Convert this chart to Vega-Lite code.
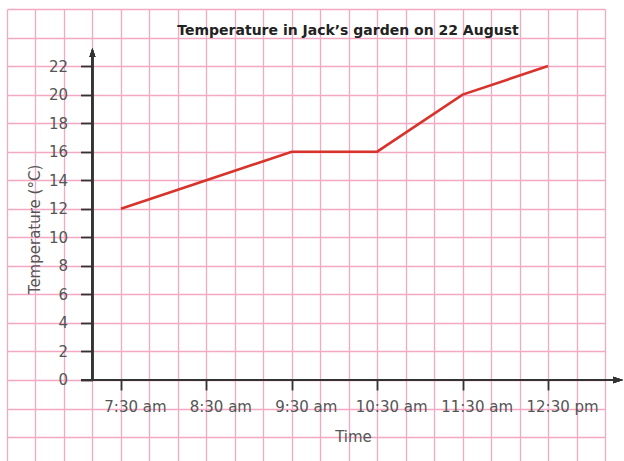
{
  "$schema": "https://vega.github.io/schema/vega-lite/v6.json",
  "width": 598,
  "height": 452,
  "autosize": {"type": "none"},
  "padding": {"left": 7, "top": 9, "right": 19, "bottom": 0},
  "background": "white",
  "title": {
    "text": "Temperature in Jack’s garden on 22 August",
    "font": "DejaVu Sans",
    "fontSize": 14,
    "fontWeight": "bold",
    "color": "#222222",
    "anchor": "middle",
    "frame": "group",
    "offset": 0,
    "baseline": "alphabetic",
    "dy": 47,
    "dx": 42
  },
  "config": {
    "view": {"stroke": null},
    "axis": {
      "gridColor": "#f3a9c3",
      "gridWidth": 1.3,
      "gridOpacity": 1,
      "domain": false,
      "tickColor": "#333333",
      "tickWidth": 1.8,
      "labelFont": "DejaVu Sans",
      "labelFontSize": 15,
      "labelColor": "#555555",
      "titleFont": "DejaVu Sans",
      "titleFontSize": 15,
      "titleFontWeight": "normal",
      "titleColor": "#555555",
      "labelOverlap": false,
      "labelBound": false,
      "labelFlush": false
    }
  },
  "data": {
    "values": [
      {"time": "7:30 am", "hour": 7.5, "temp": 12},
      {"time": "8:30 am", "hour": 8.5, "temp": 14},
      {"time": "9:30 am", "hour": 9.5, "temp": 16},
      {"time": "10:30 am", "hour": 10.5, "temp": 16},
      {"time": "11:30 am", "hour": 11.5, "temp": 20},
      {"time": "12:30 pm", "hour": 12.5, "temp": 22}
    ]
  },
  "layer": [
    {
      "mark": {"type": "line", "color": "#d8332b", "strokeWidth": 2.6},
      "encoding": {
        "x": {
          "field": "hour",
          "type": "quantitative",
          "scale": {"domain": [6.166666666666667, 13.166666666666666], "nice": false, "zero": false},
          "axis": {
            "orient": "bottom",
            "offset": -81,
            "grid": true,
            "tickCount": 100,
            "values": [6.166666666666667, 6.5, 6.833333333333333, 7.166666666666667, 7.5, 7.833333333333333, 8.166666666666667, 8.5, 8.833333333333333, 9.166666666666667, 9.5, 9.833333333333333, 10.166666666666666, 10.5, 10.833333333333334, 11.166666666666666, 11.5, 11.833333333333334, 12.166666666666666, 12.5, 12.833333333333334, 13.166666666666666],
            "tickSize": 10,
            "tickOpacity": {"condition": {"test": "abs(datum.value - floor(datum.value) - 0.5) < 0.01 && datum.value > 7 && datum.value < 13", "value": 1}, "value": 0},
            "labelExpr": "abs(datum.value - floor(datum.value) - 0.5) < 0.01 && datum.value > 7 && datum.value < 13 ? ((floor(datum.value) > 12 ? floor(datum.value) - 12 : floor(datum.value)) + ':30 ' + (datum.value >= 12 ? 'pm' : 'am')) : ''",
            "labelPadding": 9,
            "labelOffset": 14,
            "title": "Time",
            "titleX": 346,
            "titleY": 49,
            "titleBaseline": "top",
            "titleAlign": "center"
          }
        },
        "y": {
          "field": "temp",
          "type": "quantitative",
          "scale": {"domain": [-5.677, 26], "nice": false, "zero": false},
          "axis": {
            "orient": "left",
            "offset": -85.5,
            "grid": true,
            "tickCount": 100,
            "values": [-4, -2, 0, 2, 4, 6, 8, 10, 12, 14, 16, 18, 20, 22, 24, 26],
            "tickSize": 12,
            "tickOpacity": {"condition": {"test": "datum.value >= 0 && datum.value <= 22", "value": 1}, "value": 0},
            "labelExpr": "datum.value >= 0 && datum.value <= 22 ? format(datum.value, 'd') : ''",
            "labelPadding": 13,
            "title": "Temperature (°C)",
            "titlePadding": 6,
            "titleY": 220
          }
        }
      }
    },
    {
      "mark": {"type": "rule", "color": "#333333", "strokeWidth": 1.8},
      "encoding": {
        "x": {"datum": 7.166666666666667, "type": "quantitative"},
        "y": {"datum": 0, "type": "quantitative"},
        "y2": {"datum": 22.95}
      }
    },
    {
      "mark": {"type": "rule", "color": "#333333", "strokeWidth": 1.8},
      "encoding": {
        "x": {"datum": 7.033, "type": "quantitative"},
        "x2": {"datum": 13.27},
        "y": {"datum": 0, "type": "quantitative"}
      }
    },
    {
      "mark": {"type": "point", "shape": "M0,-1L0.65,1L-0.65,1Z", "size": 81, "filled": true, "color": "#333333", "opacity": 1},
      "encoding": {
        "x": {"datum": 7.166666666666667, "type": "quantitative"},
        "y": {"datum": 22.95, "type": "quantitative"}
      }
    },
    {
      "mark": {"type": "point", "shape": "M1,0L-1,0.65L-1,-0.65Z", "size": 100, "filled": true, "color": "#333333", "opacity": 1},
      "encoding": {
        "x": {"datum": 13.3187, "type": "quantitative"},
        "y": {"datum": 0, "type": "quantitative"}
      }
    }
  ]
}
